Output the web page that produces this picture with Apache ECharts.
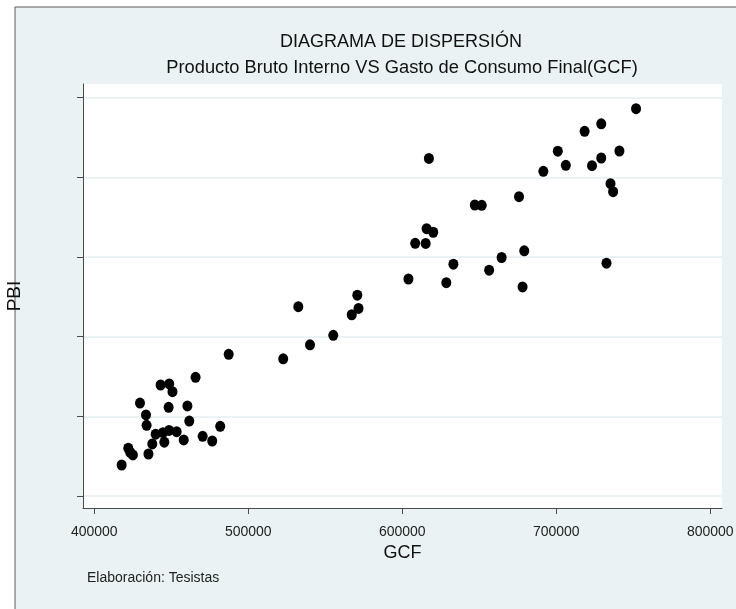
<!DOCTYPE html>
<html>
<head>
<meta charset="utf-8">
<title>Diagrama de dispersión PBI vs GCF</title>
<script src="https://cdn.jsdelivr.net/npm/echarts@6/dist/echarts.min.js"></script>
<style>
  html, body { margin: 0; padding: 0; background: #ffffff; }
  #chart { width: 736px; height: 609px; }
</style>
</head>
<body>
<div id="chart"></div>
<script>
// Gasto de Consumo Final (GCF) for each observation
const gcf = [
  465800, 443100, 448700, 450800, 429700, 448300, 460500, 433600, 434000, 461700,
  481800, 439900, 444600, 448600, 453500, 458100, 470400, 476600, 437700, 445500,
  422100, 423400, 425100, 435200, 417800,
  487300, 522700, 532500, 540100, 555200, 567200, 570800, 571600,
  751800, 729200, 718400, 617300, 701000, 741000, 729200, 706200, 723200, 691600,
  735200, 736900, 675800, 647100, 651600, 615800, 620100, 608400, 615200, 679200,
  633200, 664500, 732600, 604000, 656400, 628600, 678100
];
// Producto Bruto Interno (PBI) for the same observations
const pbi = [
  649000, 639300, 640600, 630900, 616700, 611300, 613000, 601700, 588700, 594100,
  587500, 577600, 579500, 582300, 580700, 570300, 574900, 569000, 565300, 567500,
  559900, 554600, 551500, 552700, 538900,
  677900, 672200, 737600, 689800, 701700, 727500, 752100, 735400,
  986200, 967200, 957800, 923700, 932800, 933100, 924300, 915100, 914600, 907600,
  892000, 882000, 875700, 865300, 864900, 835500, 831100, 817200, 817000, 807800,
  791000, 799400, 792200, 772400, 783400, 767800, 762400
];
// Axis tick values (the PBI axis is drawn without labels)
const xTicks = [400000, 500000, 600000, 700000, 800000];
const yTicks = [500000, 600000, 700000, 800000, 900000, 1000000];

const FONT = "'Liberation Sans', Arial, sans-serif";
const BG = '#eaf2f3';
const AXIS = '#4a4a4a';

const points = gcf.map((x, i) => [x, pbi[i]]);

const chart = echarts.init(document.getElementById('chart'), null, { renderer: 'canvas' });

chart.setOption({
  backgroundColor: '#ffffff',
  animation: false,
  graphic: [
    {
      type: 'rect', z: -10, silent: true,
      shape: { x: 15, y: 7, width: 760, height: 640 },
      style: { fill: BG, stroke: '#5a5a5a', lineWidth: 1 }
    },
    {
      type: 'text', z: 10, x: 401, y: 42,
      style: { text: 'DIAGRAMA DE DISPERSIÓN', font: '18px ' + FONT, fill: '#111',
               textAlign: 'center', textVerticalAlign: 'middle' }
    },
    {
      type: 'text', z: 10, x: 402, y: 68,
      style: { text: 'Producto Bruto Interno VS Gasto de Consumo Final(GCF)', font: '18.3px ' + FONT,
               fill: '#111', textAlign: 'center', textVerticalAlign: 'middle' }
    },
    {
      type: 'text', z: 10, x: 87, y: 578,
      style: { text: 'Elaboración: Tesistas', font: '14px ' + FONT, fill: '#222',
               textAlign: 'left', textVerticalAlign: 'middle' }
    }
  ],
  grid: {
    left: 83, top: 84, width: 639, height: 424,
    outerBoundsMode: 'none', containLabel: false,
    show: true, backgroundColor: '#ffffff', borderWidth: 0
  },
  xAxis: {
    type: 'value',
    min: 392700, max: 807600,
    name: 'GCF', nameLocation: 'middle', nameGap: 33,
    nameTextStyle: { fontFamily: FONT, fontSize: 18, color: '#111' },
    axisLine: { show: true, onZero: false, lineStyle: { color: AXIS, width: 1 } },
    axisTick: { show: true, length: 6, customValues: xTicks, lineStyle: { color: AXIS, width: 1 } },
    axisLabel: { show: true, customValues: xTicks, margin: 17, fontFamily: FONT, fontSize: 14,
                 color: '#222', formatter: v => String(v), hideOverlap: false },
    splitLine: { show: false }
  },
  yAxis: {
    type: 'value',
    min: 484900, max: 1017200,
    name: 'PBI', nameLocation: 'middle', nameGap: 59, nameRotate: 90,
    nameTextStyle: { fontFamily: FONT, fontSize: 19, color: '#111' },
    axisLine: { show: true, onZero: false, lineStyle: { color: AXIS, width: 1 } },
    axisTick: { show: true, length: 6, customValues: yTicks, lineStyle: { color: AXIS, width: 1 } },
    axisLabel: { show: false, customValues: yTicks },
    splitLine: { show: true, lineStyle: { color: '#e6eef0', width: 1.5 } }
  },
  series: [{
    type: 'scatter',
    data: points,
    symbol: 'circle',
    symbolSize: [10, 11],
    itemStyle: { color: '#000000', opacity: 1 }
  }]
});
</script>
</body>
</html>
